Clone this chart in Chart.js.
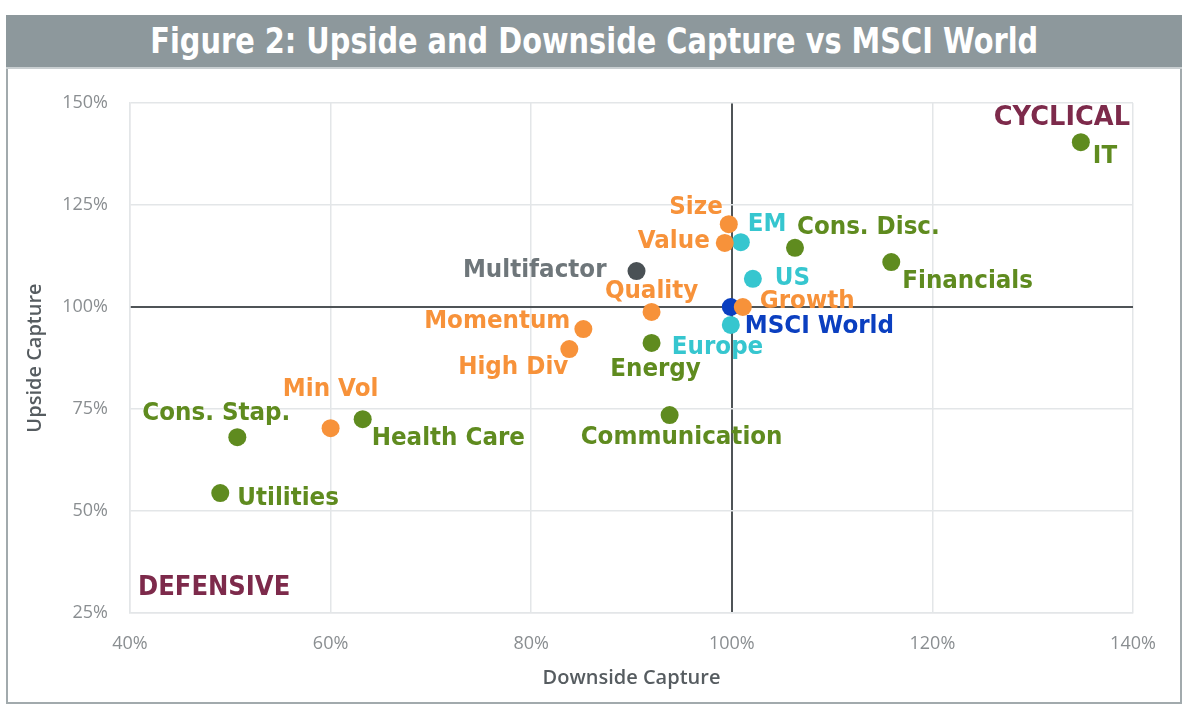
<!DOCTYPE html>
<html><head><meta charset="utf-8">
<script src="https://cdn.jsdelivr.net/npm/chart.js@4.4.1/dist/chart.umd.min.js"></script>
<style>
html,body{margin:0;padding:0;background:#fff;}
#wrap{position:relative;width:1200px;height:712px;overflow:hidden;background:#fff;}
#frame{position:absolute;left:6px;top:15px;width:1176px;height:689px;border:2px solid #a2aaad;box-sizing:border-box;}
#titlebar{position:absolute;left:6px;top:15px;width:1176px;height:54px;background:#8d989c;border-bottom:2px solid #c9cfd1;box-sizing:border-box;z-index:2;display:flex;align-items:center;justify-content:center;overflow:hidden;}
#titletext{font-family:"DejaVu Sans",sans-serif;font-weight:bold;font-size:35px;color:#fff;white-space:nowrap;transform-origin:center center;display:inline-block;line-height:1;}
#c{position:absolute;left:0;top:0;z-index:1;}
</style>
</head><body>
<div id="wrap">
  <div id="frame"></div>
  <div id="titlebar"><span id="titletext">Figure 2: Upside and Downside Capture vs MSCI World</span></div>
  <canvas id="c" width="1200" height="712"></canvas>
</div>
<script>
// ---- data ----
const pointNames = ['IT','Cons. Disc.','Financials','Size','EM','Value','Multifactor','US','Quality','Growth','MSCI World','Europe','Momentum','High Div','Energy','Communication','Min Vol','Health Care','Cons. Stap.','Utilities'];
const downsideCapture = [134.8,106.3,115.9,99.7,100.9,99.3,90.5,102.1,92.0,101.1,99.9,99.9,85.2,83.8,92.0,93.8,60.0,63.2,50.7,49.0];
const upsideCapture   = [140.4,114.5,111.0,120.3,115.9,115.7,108.8,106.9,98.8,100.0,100.0,95.6,94.6,89.7,91.2,73.5,70.3,72.5,68.1,54.4];
const pointGroups = ['Sector','Sector','Sector','Factor','Region','Factor','Multifactor','Region','Factor','Factor','Benchmark','Region','Factor','Factor','Sector','Sector','Factor','Sector','Sector','Sector'];
const groupNames = ['Factor','Multifactor','Benchmark','Region','Sector'];
const quadrantLabels = ['CYCLICAL','DEFENSIVE'];
const xAxisTitle = 'Downside Capture';
const yAxisTitle = 'Upside Capture';
const xMin = 40, xMax = 140, xStep = 20;
const yMin = 25, yMax = 150, yStep = 25;

// ---- styles ----
const groupStyle = {
  Sector:{point:'#5f8b1f',label:'#5f8b1f'},
  Factor:{point:'#f7923a',label:'#f7923a'},
  Region:{point:'#36c6cf',label:'#36c6cf'},
  Benchmark:{point:'#0b3fc0',label:'#0b3fc0'},
  Multifactor:{point:'#4a5155',label:'#6e767a'}
};
const labelPlacement = {
 'IT':['left',12,15],'Cons. Disc.':['left',2,-20],'Financials':['left',11,20],'Size':['right',-6,-16],
 'EM':['left',7,-17],'Value':['right',-15,-1],'Multifactor':['right',-30,0],'US':['left',22,0],
 'Quality':['center',0,-20],'Growth':['left',17,-5],'MSCI World':['left',14,20],'Europe':['left',-59,23],
 'Momentum':['right',-13,-7],'High Div':['right',-1,19],'Energy':['center',4,27],'Communication':['center',12,23],
 'Min Vol':['center',0,-38],'Health Care':['left',9,20],'Cons. Stap.':['center',-21,-23],'Utilities':['left',17,6]
};
const LABEL_FONT = 'bold 24px "DejaVu Sans", sans-serif';
const LABEL_SQUEEZE = 0.96;

// fit title
(function(){
  const t = document.getElementById('titletext');
  const w = t.getBoundingClientRect().width;
  t.style.transform = 'scaleX(' + (888 / w) + ')';
})();

function drawSqueezed(ctx, text, x, y, align, squeeze){
  ctx.save();
  ctx.translate(x, y);
  ctx.scale(squeeze, 1);
  ctx.textAlign = align;
  ctx.textBaseline = 'middle';
  ctx.fillText(text, 0, 0);
  ctx.restore();
}

const datasets = groupNames.map((g, gi) => {
  const data = [];
  pointNames.forEach((n, i) => {
    if (pointGroups[i] === g) data.push({x: downsideCapture[i], y: upsideCapture[i], name: n});
  });
  return {
    label: g, data: data, order: gi,
    backgroundColor: groupStyle[g].point, borderColor: groupStyle[g].point,
    pointRadius: 9, pointHoverRadius: 9, borderWidth: 0
  };
});

const labelPlugin = {
  id: 'pointLabels',
  afterDatasetsDraw(chart){
    const ctx = chart.ctx;
    ctx.save();
    ctx.font = LABEL_FONT;
    chart.data.datasets.forEach((ds, di) => {
      const meta = chart.getDatasetMeta(di);
      meta.data.forEach((el, i) => {
        const d = ds.data[i];
        const p = labelPlacement[d.name] || ['left', 12, 0];
        ctx.fillStyle = groupStyle[ds.label].label;
        drawSqueezed(ctx, d.name, el.x + p[1], el.y + p[2], p[0], LABEL_SQUEEZE);
      });
    });
    // quadrant labels
    const xs = chart.scales.x, ys = chart.scales.y;
    ctx.fillStyle = '#7d2a4b';
    ctx.font = 'bold 27px "DejaVu Sans", sans-serif';
    drawSqueezed(ctx, quadrantLabels[0], xs.getPixelForValue(139.7), ys.getPixelForValue(146.3), 'right', 0.95);
    drawSqueezed(ctx, quadrantLabels[1], xs.getPixelForValue(40.8), ys.getPixelForValue(31.1), 'left', 0.9);
    ctx.restore();
  }
};

const gridColor = (c) => (c.tick && c.tick.value === 100) ? '#4f5457' : '#e3e6e8';
const gridWidth = (c) => (c.tick && c.tick.value === 100) ? 2 : 1.5;

new Chart(document.getElementById('c'), {
  type: 'scatter',
  data: { datasets: datasets },
  options: {
    responsive: false,
    animation: false,
    events: [],
    layout: { padding: { top: 103, right: 67, left: 0, bottom: 0 } },
    plugins: { legend: { display: false }, tooltip: { enabled: false }, title: { display: false } },
    scales: {
      x: {
        type: 'linear', min: xMin, max: xMax,
        ticks: { stepSize: xStep, padding: 20, color: '#8a8e91', font: { family: '"Open Sans", sans-serif', size: 18 }, callback: v => v + '%' },
        grid: { color: gridColor, lineWidth: gridWidth, drawTicks: false },
        border: { color: '#e3e6e8', width: 1.5 },
        title: { display: true, text: xAxisTitle, color: '#565c60', font: { family: '"Open Sans", sans-serif', size: 20, weight: '600' }, padding: { top: 0, bottom: 22 } },
        afterFit(s){ s.height = 99; }
      },
      y: {
        type: 'linear', min: yMin, max: yMax,
        ticks: { stepSize: yStep, padding: 22, color: '#8a8e91', font: { family: '"Open Sans", sans-serif', size: 18 }, callback: v => v + '%' },
        grid: { color: gridColor, lineWidth: gridWidth, drawTicks: false },
        border: { color: '#e3e6e8', width: 1.5 },
        title: { display: true, text: yAxisTitle, color: '#565c60', font: { family: '"Open Sans", sans-serif', size: 20, weight: '600' }, padding: { top: 23, bottom: 0 } },
        afterFit(s){ s.width = 130; }
      }
    }
  },
  plugins: [labelPlugin]
});
</script>
</body></html>
